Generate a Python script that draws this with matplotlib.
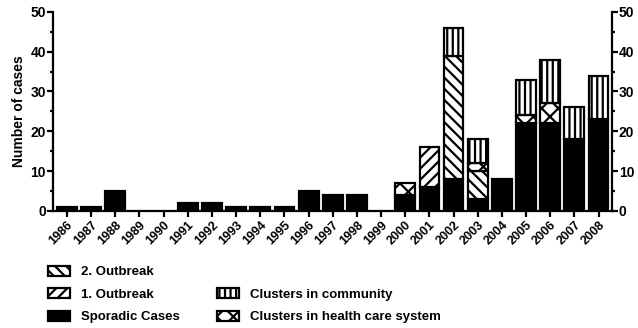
import numpy as np
import matplotlib.pyplot as plt
from matplotlib.patches import Patch
from matplotlib.ticker import MultipleLocator

plt.rcParams['font.family'] = ['Liberation Sans', 'DejaVu Sans']
plt.rcParams['font.weight'] = 'bold'
plt.rcParams['axes.labelweight'] = 'bold'
plt.rcParams['hatch.linewidth'] = 1.6

years = [str(y) for y in range(1986, 2009)]
#            86 87 88 89 90 91 92 93 94 95 96 97 98 99 00 01 02 03 04 05 06 07 08
sporadic  = [1, 1, 5, 0, 0, 2, 2, 1, 1, 1, 5, 4, 4, 0, 4, 6, 8, 3, 8, 22, 22, 18, 23]
outbreak1 = [0, 0, 0, 0, 0, 0, 0, 0, 0, 0, 0, 0, 0, 0, 0, 10, 0, 0, 0, 0, 0, 0, 0]
outbreak2 = [0, 0, 0, 0, 0, 0, 0, 0, 0, 0, 0, 0, 0, 0, 0, 0, 31, 7, 0, 0, 0, 0, 0]
health    = [0, 0, 0, 0, 0, 0, 0, 0, 0, 0, 0, 0, 0, 0, 3, 0, 0, 2, 0, 2, 5, 0, 0]
community = [0, 0, 0, 0, 0, 0, 0, 0, 0, 0, 0, 0, 0, 0, 0, 0, 7, 6, 0, 9, 11, 8, 11]

fig = plt.figure(figsize=(6.38, 3.28), dpi=100)
ax = fig.add_axes([0.083, 0.357, 0.876, 0.607])

x = np.arange(len(years))
w = 0.82
kw = dict(width=w, edgecolor='black', linewidth=1.6)
bottom = np.zeros(len(years))
series = [
    (sporadic, dict(color='black'), 'Sporadic Cases'),
    (outbreak1, dict(color='white', hatch='///'), '1. Outbreak'),
    (outbreak2, dict(color='white', hatch='\\\\\\'), '2. Outbreak'),
    (health, dict(color='white', hatch='xx'), 'Clusters in health care system'),
    (community, dict(color='white', hatch='|||'), 'Clusters in community'),
]
for vals, style, lab in series:
    vals = np.array(vals, dtype=float)
    m = vals > 0
    ax.bar(x[m], vals[m], bottom=bottom[m], **style, **kw)
    bottom += vals

ax.set_xlim(-0.58, 22.55)
ax.set_ylim(0, 50)
ax.yaxis.set_major_locator(MultipleLocator(10))
ax.yaxis.set_minor_locator(MultipleLocator(5))
ax.set_xticks(x)
ax.set_xticklabels(years, rotation=45, ha='right', rotation_mode='anchor')
ax.tick_params(axis='y', width=1.6, length=4, labelsize=10, pad=1)
ax.tick_params(axis='y', which='minor', width=1.6, length=2.5)
ax.tick_params(axis='x', width=1.6, length=4, labelsize=9, pad=2)
ax.set_ylabel('Number of cases', fontsize=10, labelpad=3)
for s in ['left', 'bottom']:
    ax.spines[s].set_linewidth(1.6)
ax.spines['top'].set_visible(False)
ax.spines['right'].set_visible(False)

ax2 = ax.twinx()
ax2.set_ylim(0, 50)
ax2.yaxis.set_major_locator(MultipleLocator(10))
ax2.yaxis.set_minor_locator(MultipleLocator(5))
ax2.tick_params(axis='y', width=1.6, length=4, labelsize=10, pad=1)
ax2.tick_params(axis='y', which='minor', width=1.6, length=2.5)
for s in ['top', 'left', 'bottom']:
    ax2.spines[s].set_visible(False)
ax2.spines['right'].set_linewidth(1.6)

def h(style):
    return Patch(facecolor=style.get('color'), hatch=style.get('hatch'), edgecolor='black', linewidth=1.6)

blank = Patch(facecolor='none', edgecolor='none')
handles = [h(series[2][1]), h(series[1][1]), h(series[0][1]),
           blank, h(series[4][1]), h(series[3][1])]
labels = ['2. Outbreak', '1. Outbreak', 'Sporadic Cases',
          '', 'Clusters in community', 'Clusters in health care system']
fig.legend(handles, labels, ncol=2, frameon=False, fontsize=9.5,
           handlelength=1.7, handleheight=0.8, labelspacing=0.75,
           handletextpad=0.8, columnspacing=2.8, loc='upper left',
           bbox_to_anchor=(0.075, 0.19), borderaxespad=0, borderpad=0)

fig.savefig('out.png', dpi=100)
